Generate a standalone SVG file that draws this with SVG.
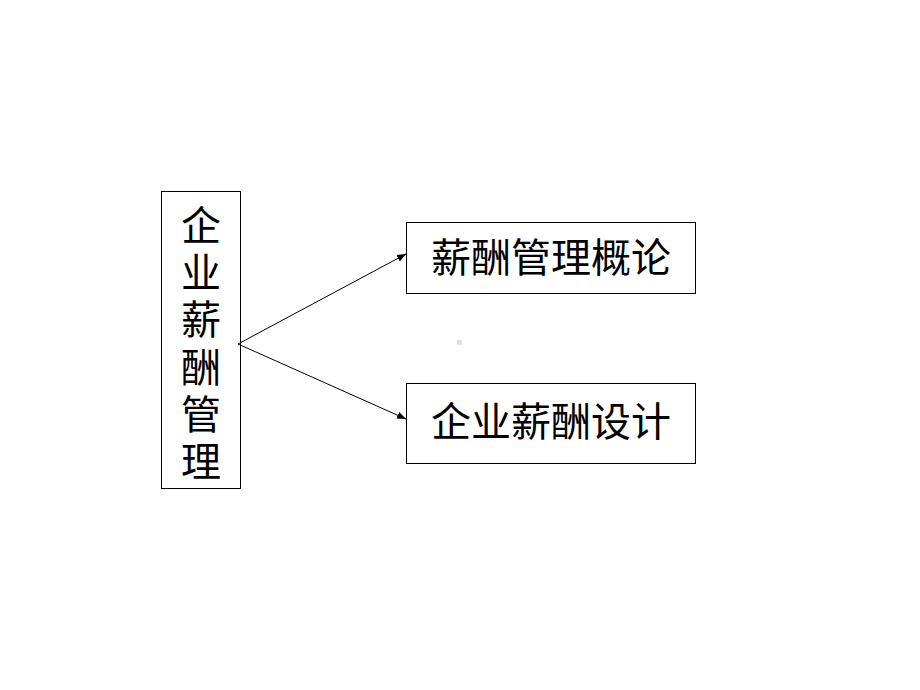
<svg xmlns="http://www.w3.org/2000/svg" width="920" height="690" viewBox="0 0 920 690">
<defs>
<style>
.box{fill:#fff;stroke:#000;stroke-width:1}
.t{font-family:"Noto Sans CJK SC","Noto Sans",sans-serif;font-size:40px;fill:#000;text-anchor:middle}
.v{font-family:"Liberation Sans","Noto Sans CJK SC",sans-serif;font-size:40px}
.c{stroke:#000;stroke-width:1;fill:none}
</style>
<marker id="ah" viewBox="0 0 10 10" refX="10" refY="5" markerWidth="9" markerHeight="9" markerUnits="userSpaceOnUse" orient="auto">
<path d="M0,1 L10,5 L0,9 z" fill="#000"/>
</marker>
</defs>
<rect width="920" height="690" fill="#fff"/>
<g id="root">
<rect class="box" x="161.5" y="191.5" width="79" height="297"/>
<text class="t v" x="201" y="240"><tspan x="201" y="240">企</tspan><tspan x="201" y="287.2">业</tspan><tspan x="201" y="334.4">薪</tspan><tspan x="201" y="381.6">酬</tspan><tspan x="201" y="428.8">管</tspan><tspan x="201" y="476">理</tspan></text>
</g>
<g id="intro">
<rect class="box" x="406.5" y="222.5" width="289" height="71"/>
<text class="t" x="551" y="272">薪酬管理概论</text>
</g>
<g id="design">
<rect class="box" x="406.5" y="383.5" width="289" height="80"/>
<text class="t" x="551" y="436">企业薪酬设计</text>
</g>
<g id="connectors">
<line class="c" x1="238" y1="344" x2="406" y2="254" marker-end="url(#ah)"/>
<line class="c" x1="238" y1="344" x2="406" y2="419" marker-end="url(#ah)"/>
</g>
<rect x="457" y="340" width="5" height="5" fill="#e0e0e0"/>
</svg>
